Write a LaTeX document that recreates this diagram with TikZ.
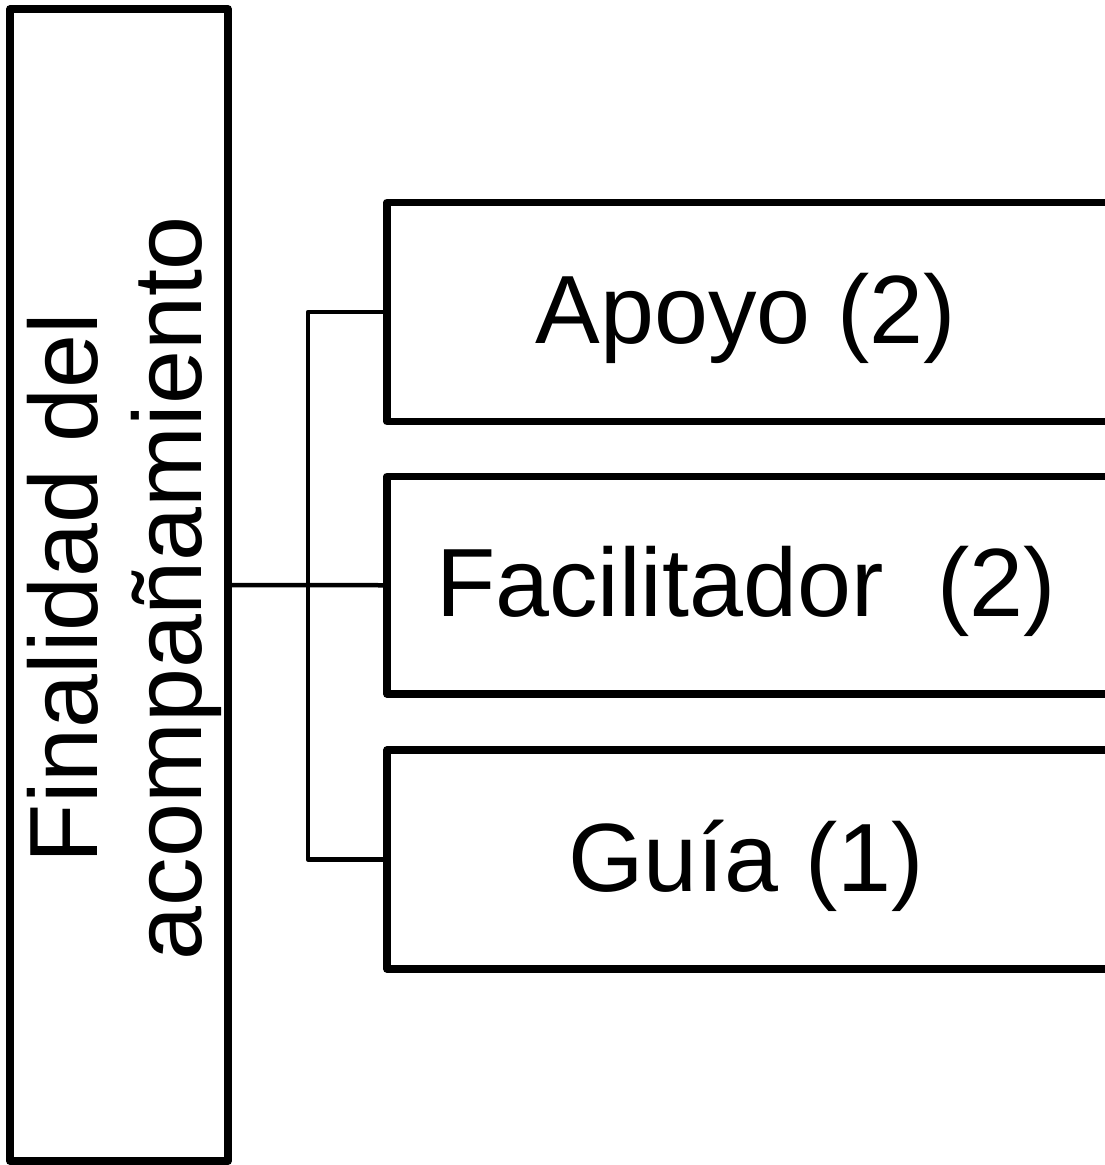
\documentclass[tikz,border=0pt]{standalone}
\usepackage{fontspec}
\setmainfont{Liberation Sans}
\begin{document}
\begin{tikzpicture}[x=1pt,y=-1pt,
  boxstyle/.style={draw=black,line width=7.5pt,line join=round,inner sep=0pt,fill=none},
  conn/.style={draw=black,line width=4.5pt,line join=round},
  lbl/.style={inner sep=0pt,font=\fontsize{97}{104}\selectfont}]
\useasboundingbox (0,0) rectangle (1104,1165);
\node[boxstyle,minimum width=218pt,minimum height=1152pt] (left) at (119,585) {};
\node[lbl,rotate=90,align=center] (lefttext) at (124,588) {Finalidad del\\acompañamiento};
\node[boxstyle,minimum width=724pt,minimum height=219pt] (b1) at (749,312) {};
\node[boxstyle,minimum width=724pt,minimum height=217.5pt] (b2) at (749,585.25) {};
\node[boxstyle,minimum width=724pt,minimum height=219pt] (b3) at (749,859.5) {};
\node[lbl] (t1) at (746,318) {Apoyo (2)};
\node[lbl] (t2) at (746,591) {Facilitador\ \ (2)};
\node[lbl] (t3) at (746,866) {Guía (1)};
\coordinate (bus) at (308,585);
\draw[conn] (left.east) -- (b2.west);
\draw[conn] (b1.west) -- (b1.west -| bus) -- (b3.west -| bus) -- (b3.west);
\end{tikzpicture}
\end{document}
